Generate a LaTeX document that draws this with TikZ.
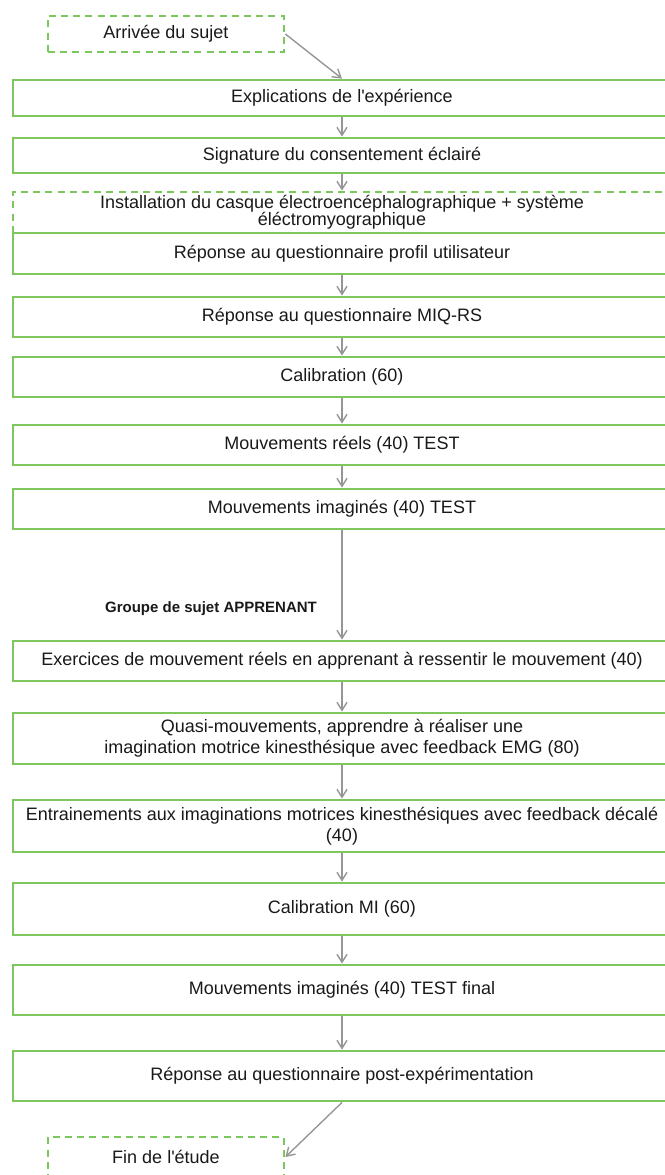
\documentclass[tikz,border=0pt]{standalone}
\usepackage{fontspec}
\setmainfont{Liberation Sans}
\usetikzlibrary{positioning, arrows.meta}
\definecolor{boxgreen}{RGB}{125,200,92}
\definecolor{arrgray}{RGB}{150,150,150}

\begin{document}
\begin{tikzpicture}[
  x=0.5pt, y=-0.5pt,
  etape/.style={draw=boxgreen, line width=1.4pt, minimum width=329pt, minimum height=20pt,
                inner xsep=0pt, inner ysep=0.5pt, align=center,
                font=\fontsize{9}{10.5}\selectfont, text=black!90},
  etapetir/.style={etape, dash pattern=on 3.5pt off 2.6pt},
  borne/.style={etapetir, minimum width=118pt, minimum height=18pt},
  arr/.style={-{Straight Barb[length=4pt, width=5pt]}, line width=0.7pt, color=arrgray},
  lbl/.style={font=\fontsize{7.5}{9}\bfseries\selectfont, text=black!90},
]
\useasboundingbox (0,0) rectangle (665,1175);

% --- Accueil ---
\node[borne] (m0) at (166,34) {Arrivée du sujet};
\node[etape, minimum height=18pt] (m1) at (342,98) {Explications de l\textquotesingle expérience};
\node[etape, minimum height=17.5pt] (m2) at (342,155.5) {Signature du consentement éclairé};
\node[etapetir, minimum height=20.5pt] (m3) at (342,212.5)
  {Installation du casque électroencéphalographique + système\\[-2pt]éléctromyographique};
\node[etape, minimum height=20.5pt] (m4) at (342,253.5) {Réponse au questionnaire profil utilisateur};
\node[etape] (m5) at (342,317) {Réponse au questionnaire MIQ-RS};

% --- Tests initiaux ---
\node[etape] (m6) at (342,377) {Calibration (60)};
\node[etape] (m7) at (342,445) {Mouvements réels (40) TEST};
\node[etape] (m8) at (342,509) {Mouvements imaginés (40) TEST};

% --- Groupe apprenant ---
\node[etape] (m9) at (342,661)
  {Exercices de mouvement réels en apprenant à ressentir le mouvement (40)};
\node[etape, minimum height=25.5pt] (m10) at (342,738.5)
  {Quasi-mouvements, apprendre à réaliser une\\imagination motrice kinesthésique avec feedback EMG (80)};
\node[etape, minimum height=26pt] (m11) at (342,826)
  {Entrainements aux imaginations motrices kinesthésiques avec feedback décalé\\(40)};
\node[etape, minimum height=26pt] (m12) at (342,909) {Calibration MI (60)};
\node[etape, minimum height=25pt] (m13) at (342,990) {Mouvements imaginés (40) TEST final};
\node[etape, minimum height=25pt] (m14) at (342,1076) {Réponse au questionnaire post-expérimentation};
\node[borne, minimum height=20pt] (m15) at (166,1157) {Fin de l\textquotesingle étude};

\node[lbl] (grp) at (211,609) {Groupe de sujet APPRENANT};

% --- Fleches ---
\draw[arr] (m0.east) -- (m1.north);
\foreach \a/\b in {m1/m2, m2/m3, m4/m5, m5/m6, m6/m7, m7/m8, m8/m9,
                   m9/m10, m10/m11, m11/m12, m12/m13, m13/m14}
  \draw[arr] (\a) -- (\b);
\draw[arr] (m14.south) -- (m15.east);

\end{tikzpicture}
\end{document}
